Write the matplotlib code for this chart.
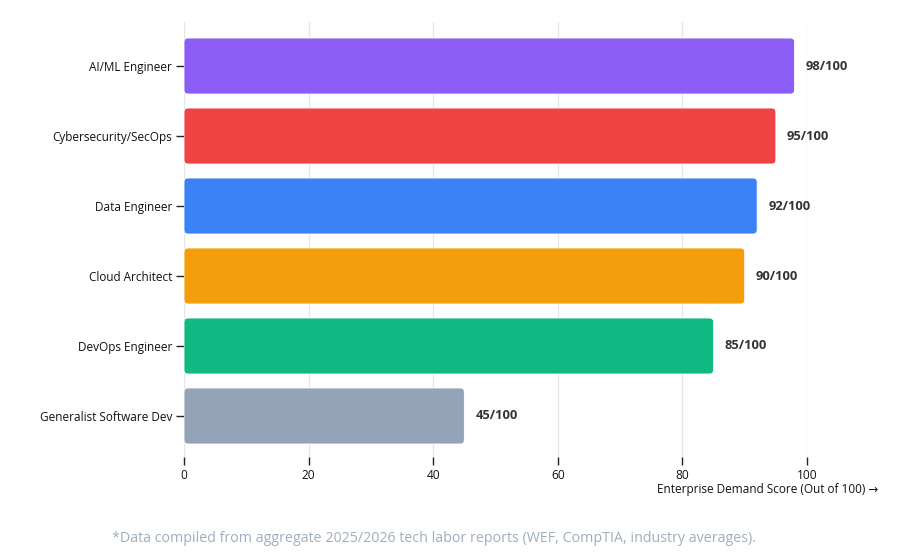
import matplotlib
matplotlib.use("Agg")
import matplotlib.pyplot as plt
from matplotlib.patches import FancyBboxPatch

plt.rcParams['font.family'] = ['Open Sans', 'DejaVu Sans']

roles = ["AI/ML Engineer", "Cybersecurity/SecOps", "Data Engineer",
         "Cloud Architect", "DevOps Engineer", "Generalist Software Dev"]
scores = [98, 95, 92, 90, 85, 45]
colors = ["#8b5cf6", "#ef4444", "#3b82f6", "#f59e0b", "#10b981", "#94a3b8"]
x_ticks = [0, 20, 40, 60, 80, 100]
x_label = "Enterprise Demand Score (Out of 100) \u2192"
footnote = "*Data compiled from aggregate 2025/2026 tech labor reports (WEF, CompTIA, industry averages)."

W, H = 901, 556
fig = plt.figure(figsize=(W / 100, H / 100), dpi=100)
left, right, top, bottom = 184, 807, 22, 457
ax = fig.add_axes([left / W, 1 - bottom / H, (right - left) / W, (bottom - top) / H])

ax.set_xlim(0, 100)
ax.set_ylim(5.586, -0.629)

px_x = 100 / (right - left)
px_y = 1 / 70.0
aspect = px_y / px_x
bh = 0.8
for i, (v, c) in enumerate(zip(scores, colors)):
    patch = FancyBboxPatch((0, i - bh / 2), v, bh,
                           boxstyle=f"round,pad=0,rounding_size={4 * px_x}",
                           mutation_aspect=aspect, facecolor=c,
                           edgecolor="white", linewidth=0.6, zorder=3)
    ax.add_patch(patch)
    ax.text(v + 11 * px_x, i, f"{v}/100", va="center", ha="left",
            fontsize=9.3, fontweight="bold", color="#333333", zorder=4)

ax.set_yticks(range(len(roles)))
ax.set_yticklabels(roles)
ax.set_xticks(x_ticks)
ax.tick_params(axis="y", length=6, width=1, color="#222222", pad=2.5,
               labelsize=8.5, labelcolor="#111111")
ax.tick_params(axis="x", length=6, width=1, color="#222222", pad=2.5,
               labelsize=8.6, labelcolor="#111111")
for s in ax.spines.values():
    s.set_visible(False)
ax.grid(axis="x", color="#e6e6e6", linewidth=1, zorder=0)
ax.set_axisbelow(True)

fig.text(878 / W, 1 - 490 / H, x_label, ha="right", va="center",
         fontsize=8.5, color="#111111")
fig.text(434 / W, 1 - 538 / H, footnote, ha="center", va="center",
         fontsize=10.3, color="#a0aec0")

fig.savefig("out.png", dpi=100)
